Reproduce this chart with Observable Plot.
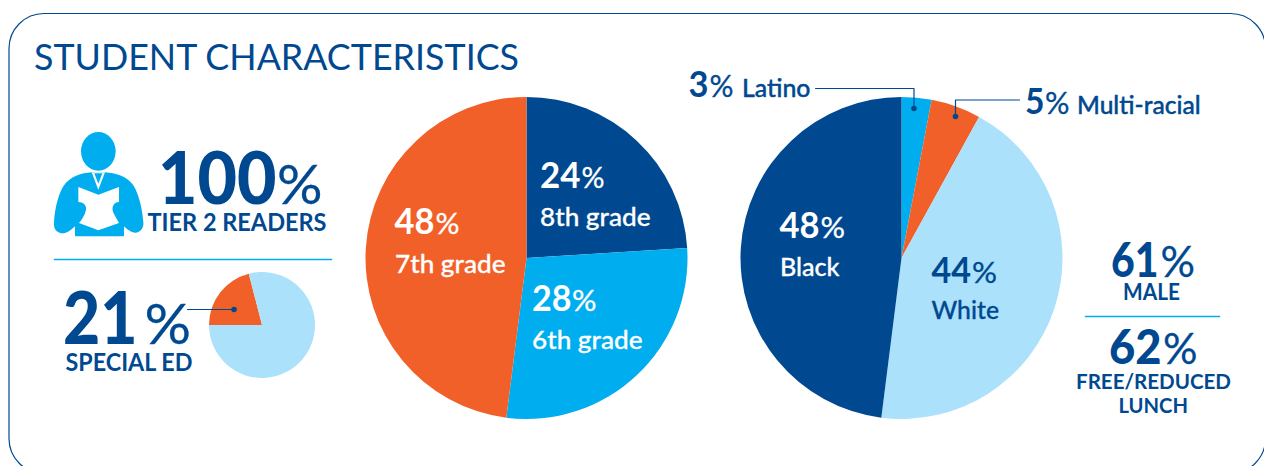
<!DOCTYPE html>
<html><head><meta charset="utf-8">
<script src="https://cdn.jsdelivr.net/npm/d3@7"></script>
<script src="https://cdn.jsdelivr.net/npm/@observablehq/plot@0.6"></script>
<style>html,body{margin:0;padding:0;background:#fff;overflow:hidden}svg{display:block}</style>
</head><body><div id="chart"></div>
<script>
// ---- data ----
const gradeLabels = ["8th grade", "6th grade", "7th grade"];
const gradeValues = [24, 28, 48];
const raceLabels = ["Latino", "Multi-racial", "White", "Black"];
const raceValues = [3, 5, 44, 48];
const specialEdLabels = ["Special ed", "Other"];
const specialEdValues = [21, 79];
const statLabels = ["TIER 2 READERS", "SPECIAL ED", "MALE", "FREE/REDUCED LUNCH"];
const statValues = [100, 21, 61, 62];

// ---- style ----
const NAVY = "#004990", ORANGE = "#F26029", CYAN = "#00AEEF", PALE = "#ABE1FA", WHITE = "#fff";
const FONT = "Lato, sans-serif";

function pie(labels, values, colors, cx, cy, r, start = 0) {
  const rows = d3.pie().sort(null).startAngle(start).endAngle(start + 2 * Math.PI)(values)
    .map((a, i) => ({...a, label: labels[i], color: colors[i]}));
  const arc = d3.arc().innerRadius(0).outerRadius(r);
  return Plot.dot(rows, {
    x: () => cx, y: () => cy, fill: "color", r: 1,
    render(index, scales, vals) {
      const g = d3.create("svg:g").attr("aria-label", "pie");
      for (const i of index) {
        g.append("path").attr("d", arc(rows[i]))
          .attr("transform", `translate(${vals.x[i]},${vals.y[i]})`)
          .attr("fill", rows[i].color);
      }
      return g.node();
    }
  });
}
// a text from x1 to x2 on baseline y; the run is fitted to that span
function t(text, x1, x2, y, size, weight, fill = NAVY, bold = 0) {
  return Plot.text([text], {
    x: () => x1, y: () => y, text: d => d, fontSize: size, fontWeight: weight,
    fontFamily: FONT, fill, textAnchor: "start", lineAnchor: "bottom",
    ...(bold ? {stroke: fill, strokeWidth: bold} : {}),
    render(index, scales, vals, dims, ctx, next) {
      const g = next(index, scales, vals, dims, ctx);
      d3.select(g).selectAll("text")
        .attr("textLength", x2 - x1).attr("lengthAdjust", "spacingAndGlyphs");
      return g;
    }
  });
}
function pct(v, a, b, c, d, y, size, pctSize, w1, w2, fill = NAVY, bold = 0.3) {
  return [t(String(v), a, b, y, size, w1, fill), t("%", c, d, y, pctSize, w2, fill, bold)];
}
function icon() {
  const g = d3.create("svg:g").attr("transform", "translate(50,128) scale(0.3333)");
  g.append("ellipse").attr("cx", 145).attr("cy", 70).attr("rx", 52).attr("ry", 58).attr("fill", CYAN);
  g.append("path").attr("fill", CYAN).attr("d", "M125 133C95 135 60 145 40 175C22 205 12 255 12 290C12 310 30 318 45 315C55 313 65 305 75 295L75 325L222 325L222 295C232 305 245 315 258 314C272 312 282 300 280 282C278 250 268 200 250 172C232 145 195 135 165 133Z");
  g.append("path").attr("fill", WHITE).attr("d", "M85 177L145 200L207 177L207 222C190 222 182 240 192 258C198 270 205 280 207 285L145 307L87 285C95 275 105 262 108 245C110 232 100 222 85 222Z");
  g.append("path").attr("fill", WHITE).attr("d", "M125 133L165 133L145 185Z");
  g.append("path").attr("fill", CYAN).attr("d", "M133 136L157 136L145 167Z");
  return g.node();
}
function rule(x1, x2, y, color = CYAN, w = 1.6) {
  return Plot.line([[x1, y], [x2, y]], {stroke: color, strokeWidth: w});
}
function leader(points) {
  const end = points[points.length - 1];
  return [Plot.line(points, {stroke: NAVY, strokeWidth: 1.2}), Plot.dot([end], {r: 2.8, fill: NAVY})];
}
const [lunch1, lunch2] = statLabels[3].split(" ");

const plot = Plot.plot({
  width: 1264, height: 466, margin: 0,
  x: {type: "identity", axis: null}, y: {type: "identity", axis: null},
  style: {background: "#fff", fontFamily: FONT},
  marks: [
    Plot.frame({stroke: NAVY, strokeWidth: 1.2, rx: 35, insetLeft: 8.5, insetTop: 13, insetRight: -1, insetBottom: -7}),
    t("STUDENT CHARACTERISTICS", 33.5, 518.5, 69, 36, 400),

    icon,
    pct(statValues[0], 157.5, 276, 276.5, 322, 203, 73, 55, 900, 400),
    t(statLabels[0], 147, 326, 230.5, 24.5, 700),
    rule(54, 331, 259),
    pie(specialEdLabels, specialEdValues, [ORANGE, PALE], 262, 325, 53, 1.5 * Math.PI),
    pct(statValues[1], 62.5, 137, 144, 190.5, 343, 73, 56, 900, 400),
    t(statLabels[1], 65, 192, 370, 24.5, 700),
    leader([[187, 309], [233.5, 309]]),

    pie(gradeLabels, gradeValues, [NAVY, CYAN, ORANGE], 526.5, 258, 161),
    pct(gradeValues[0], 539.5, 580, 581, 604, 187, 35.5, 29, 700, 400, WHITE),
    t(gradeLabels[0], 539.5, 650, 225, 25, 500, WHITE, 0.3),
    pct(gradeValues[1], 531.5, 571, 571.5, 596, 310.5, 35.5, 29, 700, 400, WHITE),
    t(gradeLabels[1], 531.5, 642, 348, 25, 500, WHITE, 0.3),
    pct(gradeValues[2], 394, 434, 435, 459, 233, 35.5, 29, 700, 400, WHITE),
    t(gradeLabels[2], 394.5, 505, 272, 25, 500, WHITE, 0.3),

    pie(raceLabels, raceValues, [CYAN, ORANGE, PALE, NAVY], 901.5, 258, 161),
    pct(raceValues[3], 779, 819, 820, 844.5, 237, 35.5, 29, 700, 400, WHITE),
    t(raceLabels[3], 779.5, 839, 275, 25, 500, WHITE, 0.3),
    pct(raceValues[2], 931, 970.5, 971.5, 996.5, 282, 35.5, 29, 700, 400, NAVY),
    t(raceLabels[2], 931, 998.5, 318, 25, 500, NAVY, 0.3),
    pct(raceValues[0], 688, 708, 709, 733, 96.5, 37, 30, 700, 400),
    t(raceLabels[0], 741.5, 810, 96, 24, 500, NAVY, 0.4),
    pct(raceValues[1], 1024.5, 1044, 1044.5, 1069, 113.5, 37, 30, 700, 400),
    t(raceLabels[1], 1076.5, 1200, 113, 24, 500, NAVY, 0.4),
    leader([[815, 88], [913.5, 88], [913.5, 108]]),
    leader([[1019, 99.5], [955, 99.5], [955, 116]]),

    pct(statValues[2], 1110.5, 1158, 1160, 1194.5, 276, 48, 43, 900, 400),
    t(statLabels[2], 1122.5, 1179.5, 299, 22, 700),
    rule(1085, 1219, 316),
    pct(statValues[3], 1108.5, 1161, 1162.5, 1197, 363, 48, 43, 900, 400),
    t(lunch1, 1075.5, 1230.5, 388, 21.5, 700),
    t(lunch2, 1118, 1187.5, 412, 21.5, 700)
  ]
});
document.getElementById("chart").append(plot);
</script></body></html>
